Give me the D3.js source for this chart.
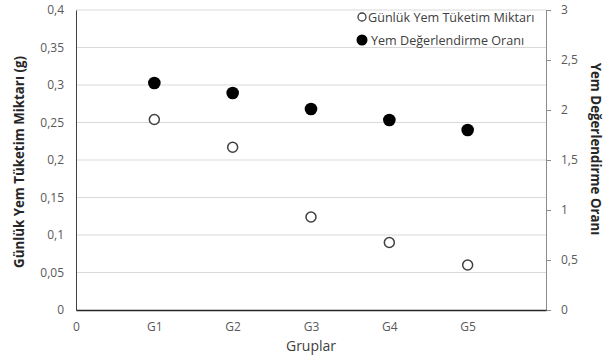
<!DOCTYPE html>
<html><head><meta charset="utf-8">
<script src="https://cdn.jsdelivr.net/npm/d3@7/dist/d3.min.js"></script>
<style>body{margin:0;background:#fff}svg{display:block}text{font-family:"Open Sans","DejaVu Sans",sans-serif}</style>
</head><body><svg id="c" width="612" height="358"></svg>
<script>
const categories = ["G1","G2","G3","G4","G5"];
const xTickLabels = ["0","G1","G2","G3","G4","G5"];
const consumption = [0.254, 0.217, 0.124, 0.090, 0.060];   // Günlük Yem Tüketim Miktarı (left axis)
const conversion = [2.27, 2.17, 2.01, 1.90, 1.80];          // Yem Değerlendirme Oranı (right axis)
const leftTicks = [0,0.05,0.1,0.15,0.2,0.25,0.3,0.35,0.4];
const rightTicks = [0,0.5,1,1.5,2,2.5,3];
const seriesNames = ["Günlük Yem Tüketim Miktarı","Yem Değerlendirme Oranı"];

const svg = d3.select("#c");
const L=76, R=546, T=10, B=310;
const x = d3.scaleLinear().domain([0,6]).range([L,R]);
const yL = d3.scaleLinear().domain([0,0.4]).range([B,T]);
const yR = d3.scaleLinear().domain([0,3]).range([B,T]);
const fmt = d => String(d).replace(".",",");

// gridlines
svg.append("g").selectAll("line").data(leftTicks.filter(d=>d>0)).join("line")
  .attr("x1",L).attr("x2",R).attr("y1",d=>yL(d)).attr("y2",d=>yL(d))
  .attr("stroke","#d9d9d9").attr("stroke-width",1);

// left axis
const gl = svg.append("g").attr("transform",`translate(${L},0)`)
  .call(d3.axisLeft(yL).tickValues(leftTicks).tickFormat(fmt).tickSize(0).tickPadding(12));
gl.select(".domain").attr("stroke","#404040");
gl.selectAll("text").attr("fill","#595959").style("font-size","12px");

// right axis
const gr = svg.append("g").attr("transform",`translate(${R},0)`)
  .call(d3.axisRight(yR).tickValues(rightTicks).tickFormat(fmt).tickSize(5).tickSizeOuter(0).tickPadding(10));
gr.select(".domain").attr("stroke","#8c8c8c");
gr.selectAll(".tick line").attr("stroke","#8c8c8c");
gr.selectAll("text").attr("fill","#595959").style("font-size","12px");

// bottom axis
const gb = svg.append("g").attr("transform",`translate(0,${B})`)
  .call(d3.axisBottom(x).tickValues(d3.range(0,6)).tickFormat((d,i)=>xTickLabels[i]).tickSize(0).tickPadding(12));
gb.select(".domain").attr("stroke","#262626").attr("stroke-width",1.3);
gb.selectAll("text").attr("fill","#595959").style("font-size","12px");

// axis titles
svg.append("text").attr("transform",`translate(24,162) rotate(-90)`)
  .attr("text-anchor","middle").attr("font-weight","bold").attr("fill","#262626")
  .style("font-size","13.3px").text("Günlük Yem Tüketim Miktarı (g)");
svg.append("text").attr("transform",`translate(591,149) rotate(90)`)
  .attr("text-anchor","middle").attr("font-weight","bold").attr("fill","#262626")
  .style("font-size","13.3px").text("Yem Değerlendirme Oranı");
svg.append("text").attr("x",x(3)).attr("y",351).attr("text-anchor","middle")
  .attr("fill","#404040").style("font-size","14px").text("Gruplar");

// series
svg.append("g").selectAll("circle").data(categories).join("circle")
  .attr("cx",(d,i)=>x(i+1)).attr("cy",(d,i)=>yR(conversion[i])).attr("r",6.3).attr("fill","#000");
svg.append("g").selectAll("circle").data(categories).join("circle")
  .attr("cx",(d,i)=>x(i+1)).attr("cy",(d,i)=>yL(consumption[i])).attr("r",5)
  .attr("fill","#fff").attr("stroke","#404040").attr("stroke-width",1.5);

// legend
const lg = svg.append("g");
lg.append("circle").attr("cx",362).attr("cy",17).attr("r",4).attr("fill","#fff").attr("stroke","#404040").attr("stroke-width",1.3);
lg.append("text").attr("x",368).attr("y",21.5).attr("fill","#404040").style("font-size","12.6px").text(seriesNames[0]);
lg.append("circle").attr("cx",362).attr("cy",40).attr("r",5.5).attr("fill","#000");
lg.append("text").attr("x",371).attr("y",44.5).attr("fill","#404040").style("font-size","12.6px").text(seriesNames[1]);
</script></body></html>
